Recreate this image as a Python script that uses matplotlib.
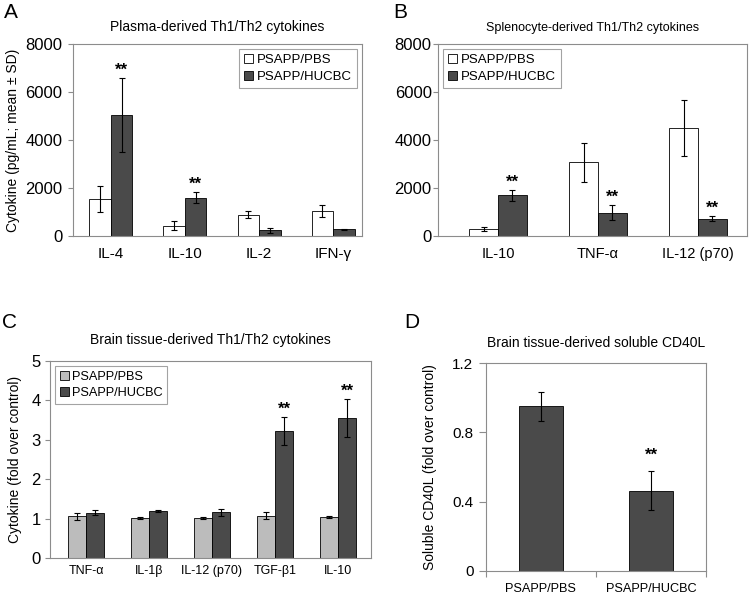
import numpy as np
import matplotlib.pyplot as plt

plt.rcParams['font.family'] = ['Liberation Sans', 'DejaVu Sans']

# Panel A - plasma
a_cats = ["IL-4", "IL-10", "IL-2", "IFN-\u03b3"]
a_pbs = [1530, 430, 890, 1040]
a_pbs_sd = [550, 180, 150, 250]
a_huc = [5030, 1600, 230, 280]
a_huc_sd = [1550, 230, 110, 30]
a_star = [1, 1, 0, 0]

# Panel B - splenocytes
b_cats = ["IL-10", "TNF-\u03b1", "IL-12 (p70)"]
b_pbs = [290, 3070, 4490]
b_pbs_sd = [80, 800, 1160]
b_huc = [1700, 975, 725]
b_huc_sd = [230, 320, 110]
b_star = [1, 1, 1]

# Panel C - brain tissue
c_cats = ["TNF-\u03b1", "IL-1\u03b2", "IL-12 (p70)", "TGF-\u03b21", "IL-10"]
c_pbs = [1.06, 1.01, 1.01, 1.07, 1.04]
c_pbs_sd = [0.09, 0.02, 0.02, 0.09, 0.03]
c_huc = [1.15, 1.19, 1.16, 3.22, 3.55]
c_huc_sd = [0.06, 0.02, 0.09, 0.36, 0.49]
c_star = [0, 0, 0, 1, 1]

# Panel D - soluble CD40L
d_cats = ["PSAPP/PBS", "PSAPP/HUCBC"]
d_vals = [0.95, 0.463]
d_sd = [0.086, 0.113]
d_star = [0, 1]

DARK = "#4a4a4a"
LIGHT = "#bcbcbc"
FRAME = "#8c8c8c"

fig = plt.figure(figsize=(7.51, 5.97), dpi=100)


def style_axes(ax, ysize, xsize, ypad, xpad):
    for s in ax.spines.values():
        s.set_color(FRAME)
        s.set_linewidth(0.8)
    ax.tick_params(axis='y', direction='out', length=3.5, width=0.8, color=FRAME, labelsize=ysize, pad=ypad)
    ax.tick_params(axis='x', length=0, labelsize=xsize, pad=xpad)


def grouped(ax, cats, pbs, pbs_sd, huc, huc_sd, stars, pbs_color, w):
    x = np.arange(len(cats))
    ek = dict(ecolor='black', elinewidth=0.8, capsize=2.5, capthick=0.8)
    ax.bar(x - w / 2, pbs, w, yerr=pbs_sd, color=pbs_color, edgecolor='black',
           linewidth=0.6, label="PSAPP/PBS", error_kw=ek, zorder=2)
    ax.bar(x + w / 2, huc, w, yerr=huc_sd, color=DARK, edgecolor='black',
           linewidth=0.6, label="PSAPP/HUCBC", error_kw=ek, zorder=2)
    for i, s in enumerate(stars):
        if s:
            ax.annotate("**", (x[i] + w / 2, huc[i] + huc_sd[i]), xytext=(0, 0),
                        textcoords='offset points', ha='center', va='bottom',
                        fontsize=12, fontweight='bold')
    ax.set_xticks(x)
    ax.set_xticklabels(cats)


def legend(ax, loc, anchor, size=9.5):
    lg = ax.legend(loc=loc, bbox_to_anchor=anchor, fontsize=size, handlelength=0.7, handleheight=0.7,
                   handletextpad=0.3, borderpad=0.35, labelspacing=0.35, fancybox=False,
                   frameon=True, borderaxespad=0.4)
    lg.get_frame().set_edgecolor(FRAME)
    lg.get_frame().set_linewidth(0.8)


# A
axA = fig.add_axes([0.0972, 0.6047, 0.385, 0.3216])
grouped(axA, a_cats, a_pbs, a_pbs_sd, a_huc, a_huc_sd, a_star, 'white', 0.29)
style_axes(axA, 12, 11, 4, 8)
axA.set_xlim(-0.51, 3.39)
axA.set_ylim(0, 8000)
axA.set_yticks([0, 2000, 4000, 6000, 8000])
axA.set_ylabel("Cytokine (pg/mL; mean \u00b1 SD)", fontsize=10, labelpad=4)
axA.set_title("Plasma-derived Th1/Th2 cytokines", fontsize=10, pad=9)
legend(axA, 'upper right', (1.0, 1.0))

# B
axB = fig.add_axes([0.5832, 0.6047, 0.4115, 0.3216])
grouped(axB, b_cats, b_pbs, b_pbs_sd, b_huc, b_huc_sd, b_star, 'white', 0.287)
style_axes(axB, 12, 10.5, 1, 8)
axB.set_xlim(-0.6, 2.49)
axB.set_ylim(0, 8000)
axB.set_yticks([0, 2000, 4000, 6000, 8000])
axB.set_title("Splenocyte-derived Th1/Th2 cytokines", fontsize=9, pad=9)
legend(axB, 'upper left', (0.0, 1.0))

# C
axC = fig.add_axes([0.0666, 0.0653, 0.4274, 0.330])
grouped(axC, c_cats, c_pbs, c_pbs_sd, c_huc, c_huc_sd, c_star, LIGHT, 0.286)
style_axes(axC, 12, 9, 3, 5)
axC.set_xlim(-0.571, 4.524)
axC.set_ylim(0, 5)
axC.set_yticks([0, 1, 2, 3, 4, 5])
axC.set_ylabel("Cytokine (fold over control)", fontsize=10, labelpad=7)
axC.set_title("Brain tissue-derived Th1/Th2 cytokines", fontsize=10, pad=12)
legend(axC, 'upper left', (0.0, 1.0), size=9.2)

# D
axD = fig.add_axes([0.647, 0.0436, 0.293, 0.348])
xd = np.arange(len(d_cats))
axD.bar(xd, d_vals, 0.4, yerr=d_sd, color=DARK, edgecolor='black', linewidth=0.6,
        error_kw=dict(ecolor='black', elinewidth=0.8, capsize=2.5, capthick=0.8), zorder=2)
for i, s in enumerate(d_star):
    if s:
        axD.annotate("**", (xd[i], d_vals[i] + d_sd[i]), xytext=(0, 6),
                     textcoords='offset points', ha='center', va='bottom',
                     fontsize=12, fontweight='bold')
axD.set_xlim(-0.5, 1.5)
axD.set_ylim(0, 1.2)
axD.set_yticks([0, 0.4, 0.8, 1.2])
axD.set_yticklabels(["0", "0.4", "0.8", "1.2"])
axD.set_xticks(xd)
axD.set_xticklabels(d_cats)
axD.set_xticks([-0.5, 0.5, 1.5], minor=True)
style_axes(axD, 11, 9.2, 4, 9)
axD.tick_params(axis='x', which='minor', direction='out', length=4, width=0.8, color=FRAME)
axD.tick_params(axis='y', length=5)
axD.set_ylabel("Soluble CD40L (fold over control)", fontsize=10, labelpad=11)
axD.set_title("Brain tissue-derived soluble CD40L", fontsize=10, pad=12)

# panel letters
for lbl, x, y in [("A", 0.005, 0.995), ("B", 0.524, 0.995), ("C", 0.003, 0.475), ("D", 0.538, 0.475)]:
    fig.text(x, y, lbl, fontsize=15, ha='left', va='top')

fig.savefig("out.png", dpi=100)
